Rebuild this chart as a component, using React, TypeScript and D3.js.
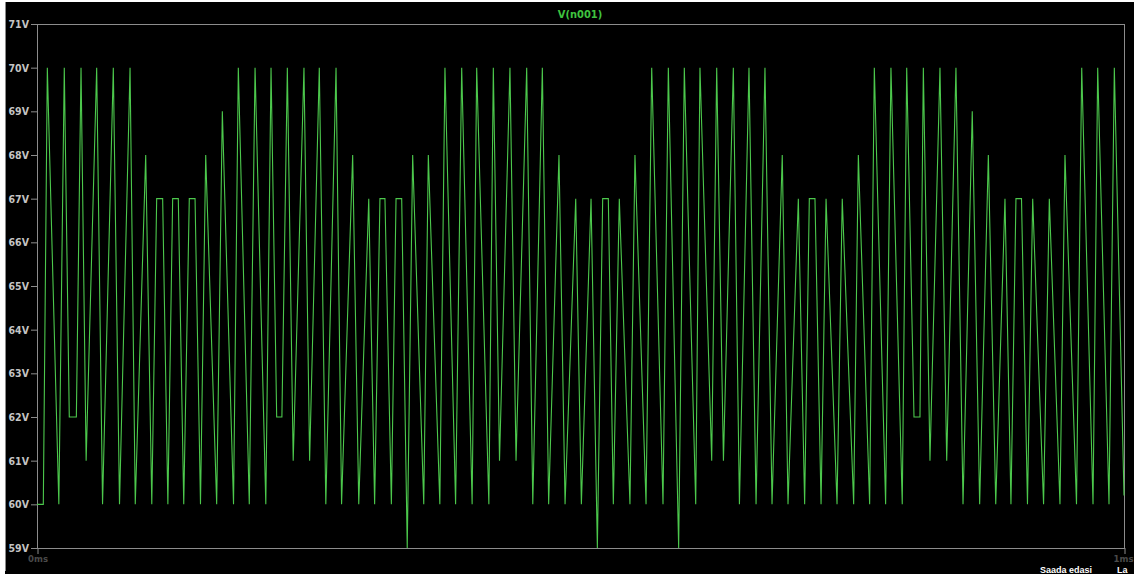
import React, { useRef, useEffect } from "react";
import * as d3 from "d3";

// time of each visible vertex (ms) and voltage
const timeMs = [
  0, 0.0058, 0.0095, 0.0201, 0.0251, 0.0297, 0.0362, 0.0405, 0.0452, 0.0549,
  0.0603, 0.0702, 0.0759, 0.0856, 0.0904, 0.1, 0.1056, 0.1101, 0.1156, 0.1204,
  0.1248, 0.13, 0.135, 0.1401, 0.1454, 0.1504, 0.1552, 0.1653, 0.1705, 0.1808,
  0.1852, 0.1953, 0.2006, 0.2105, 0.2153, 0.2205, 0.2253, 0.2303, 0.2357, 0.2456,
  0.2508, 0.2597, 0.2657, 0.2751, 0.2802, 0.2904, 0.296, 0.3052, 0.3106, 0.3155,
  0.3201, 0.326, 0.3303, 0.3355, 0.3406, 0.3456, 0.3558, 0.36, 0.3706, 0.3753,
  0.3851, 0.3907, 0.4003, 0.4045, 0.4157, 0.4198, 0.4255, 0.4351, 0.4407, 0.4505,
  0.4561, 0.4649, 0.4707, 0.4802, 0.4858, 0.4956, 0.5008, 0.5097, 0.5155, 0.5204,
  0.5256, 0.5302, 0.5357, 0.5455, 0.5501, 0.5603, 0.5655, 0.5759, 0.5808, 0.5903,
  0.5955, 0.606, 0.6099, 0.6207, 0.6253, 0.6315, 0.6406, 0.6462, 0.655, 0.6615,
  0.6697, 0.6762, 0.6856, 0.6909, 0.7004, 0.7062, 0.7105, 0.7157, 0.7213, 0.7259,
  0.736, 0.7408, 0.7513, 0.7556, 0.766, 0.7703, 0.7807, 0.7856, 0.796, 0.8001,
  0.8068, 0.8123, 0.8154, 0.8215, 0.8307, 0.8369, 0.8454, 0.8519, 0.8604, 0.8672,
  0.8752, 0.882, 0.8905, 0.896, 0.9006, 0.9057, 0.9112, 0.916, 0.926, 0.9313,
  0.9411, 0.9457, 0.9563, 0.9611, 0.9715, 0.9758, 0.9862, 0.9911, 1.0,
];

const volts = [
  60, 60, 70, 60, 70, 62, 62, 70, 61, 70,
  60, 70, 60, 70, 60, 68, 60, 67, 67, 60,
  67, 67, 60, 67, 67, 60, 68, 60, 69, 60,
  70, 60, 70, 60, 70, 62, 62, 70, 61, 70,
  61, 70, 60, 70, 60, 68, 60, 67, 60, 67,
  67, 60, 67, 67, 59, 68, 60, 68, 60, 70,
  60, 70, 60, 70, 60, 70, 61, 70, 61, 70,
  60, 70, 60, 68, 60, 67, 60, 67, 59, 67,
  67, 60, 67, 60, 68, 60, 70, 60, 70, 59,
  70, 60, 70, 61, 70, 61, 70, 60, 70, 60,
  70, 60, 68, 60, 67, 60, 67, 67, 60, 67,
  60, 67, 60, 68, 60, 70, 60, 70, 60, 70,
  62, 62, 70, 61, 70, 61, 70, 60, 69, 60,
  68, 60, 67, 60, 67, 67, 60, 67, 60, 67,
  60, 68, 60, 70, 60, 70, 60, 70, 60.2,
];

const yTicks = [59, 60, 61, 62, 63, 64, 65, 66, 67, 68, 69, 70, 71];
const xTickLabels = ["0ms", "1ms"];
const traceName = "V(n001)";

const W = 1134;
const H = 574;
const left = 37;
const right = 1124;
const top = 24;
const bottom = 548;

const App = () => {
  const svgRef = useRef(null);

  useEffect(() => {
    const svg = d3.select(svgRef.current);
    svgRef.current.querySelectorAll("*").forEach((n) => n.remove());

    const xScale = d3.scaleLinear().domain([0, 1]).range([left, right]);
    const yScale = d3.scaleLinear().domain([59, 71]).range([bottom, top]);

    // window background
    svg.append("rect").attr("width", W).attr("height", H).attr("fill", "#ffffff");
    svg.append("rect").attr("x", 5).attr("y", 2).attr("width", W - 5).attr("height", H - 2).attr("fill", "#000");
    svg.append("line")
      .attr("x1", 5.5).attr("x2", 5.5).attr("y1", 2).attr("y2", 571)
      .attr("stroke", "#8a8a8a");

    // y axis
    const yAxis = d3.axisLeft(yScale)
      .tickValues(yTicks)
      .tickSize(6)
      .tickPadding(2)
      .tickFormat((d) => `${d}V`);

    const gy = svg.append("g")
      .attr("transform", `translate(${left}, 0)`)
      .call(yAxis);
    gy.select(".domain").remove();
    gy.selectAll("line").attr("stroke", "#8c8c8c");
    gy.selectAll("text")
      .attr("fill", "#c4c4c4")
      .attr("font-family", "'DejaVu Sans Condensed', 'DejaVu Sans', sans-serif")
      .attr("font-weight", "bold")
      .attr("font-size", 10.5);

    // frame
    svg.append("rect")
      .attr("x", left + 0.5).attr("y", top + 0.5)
      .attr("width", right - left).attr("height", bottom - top)
      .attr("fill", "none")
      .attr("stroke", "#8c8c8c");

    // x axis ends
    const xAxis = d3.axisBottom(xScale)
      .tickValues([0, 1])
      .tickSize(6)
      .tickPadding(1)
      .tickFormat((_, i) => xTickLabels[i]);
    const gx = svg.append("g")
      .attr("transform", `translate(0.5, ${bottom})`)
      .call(xAxis);
    gx.select(".domain").remove();
    gx.selectAll("line").attr("stroke", "#8c8c8c");
    gx.selectAll("text")
      .attr("fill", "#4a4a4a")
      .attr("font-family", "'DejaVu Sans Condensed', 'DejaVu Sans', sans-serif")
      .attr("font-weight", "bold")
      .attr("font-size", 9.5);
    // last label sits against the window edge
    gx.selectAll("text").filter((_, i) => i === 1)
      .attr("text-anchor", "end")
      .attr("x", W - right - 1.5);

    // trace title
    svg.append("text")
      .attr("x", 580).attr("y", 18)
      .attr("text-anchor", "middle")
      .attr("fill", "#3fc43f")
      .attr("font-family", "'DejaVu Sans Condensed', 'DejaVu Sans', sans-serif")
      .attr("font-weight", "bold")
      .attr("font-size", 11)
      .text(traceName);

    // trace
    const data = timeMs.map((t, i) => ({ t, v: volts[i] }));
    const lineGen = d3.line()
      .x((d) => xScale(d.t))
      .y((d) => yScale(d.v));

    svg.append("defs").append("clipPath").attr("id", "plotClip")
      .append("rect").attr("x", left).attr("y", top - 2).attr("width", right - left + 1).attr("height", bottom - top + 4);

    svg.append("path")
      .datum(data)
      .attr("clip-path", "url(#plotClip)")
      .attr("d", lineGen)
      .attr("fill", "none")
      .attr("stroke", "#4cc84c")
      .attr("stroke-width", 1.1)
      .attr("stroke-linejoin", "miter");

    // overlay button text at the bottom edge
    svg.append("text")
      .attr("x", 1040).attr("y", 573)
      .attr("fill", "#ffffff")
      .attr("font-family", "'Liberation Sans', Arial, sans-serif")
      .attr("font-weight", "bold")
      .attr("font-size", 9)
      .text("Saada edasi");
    svg.append("text")
      .attr("x", 1117).attr("y", 573)
      .attr("fill", "#ffffff")
      .attr("font-family", "'Liberation Sans', Arial, sans-serif")
      .attr("font-weight", "bold")
      .attr("font-size", 9)
      .text("La");
  }, []);

  return (
    <div style={{ position: "absolute", left: 0, top: 0 }}>
      <svg ref={svgRef} width={W} height={H} style={{ display: "block" }} />
    </div>
  );
};

export default App;
